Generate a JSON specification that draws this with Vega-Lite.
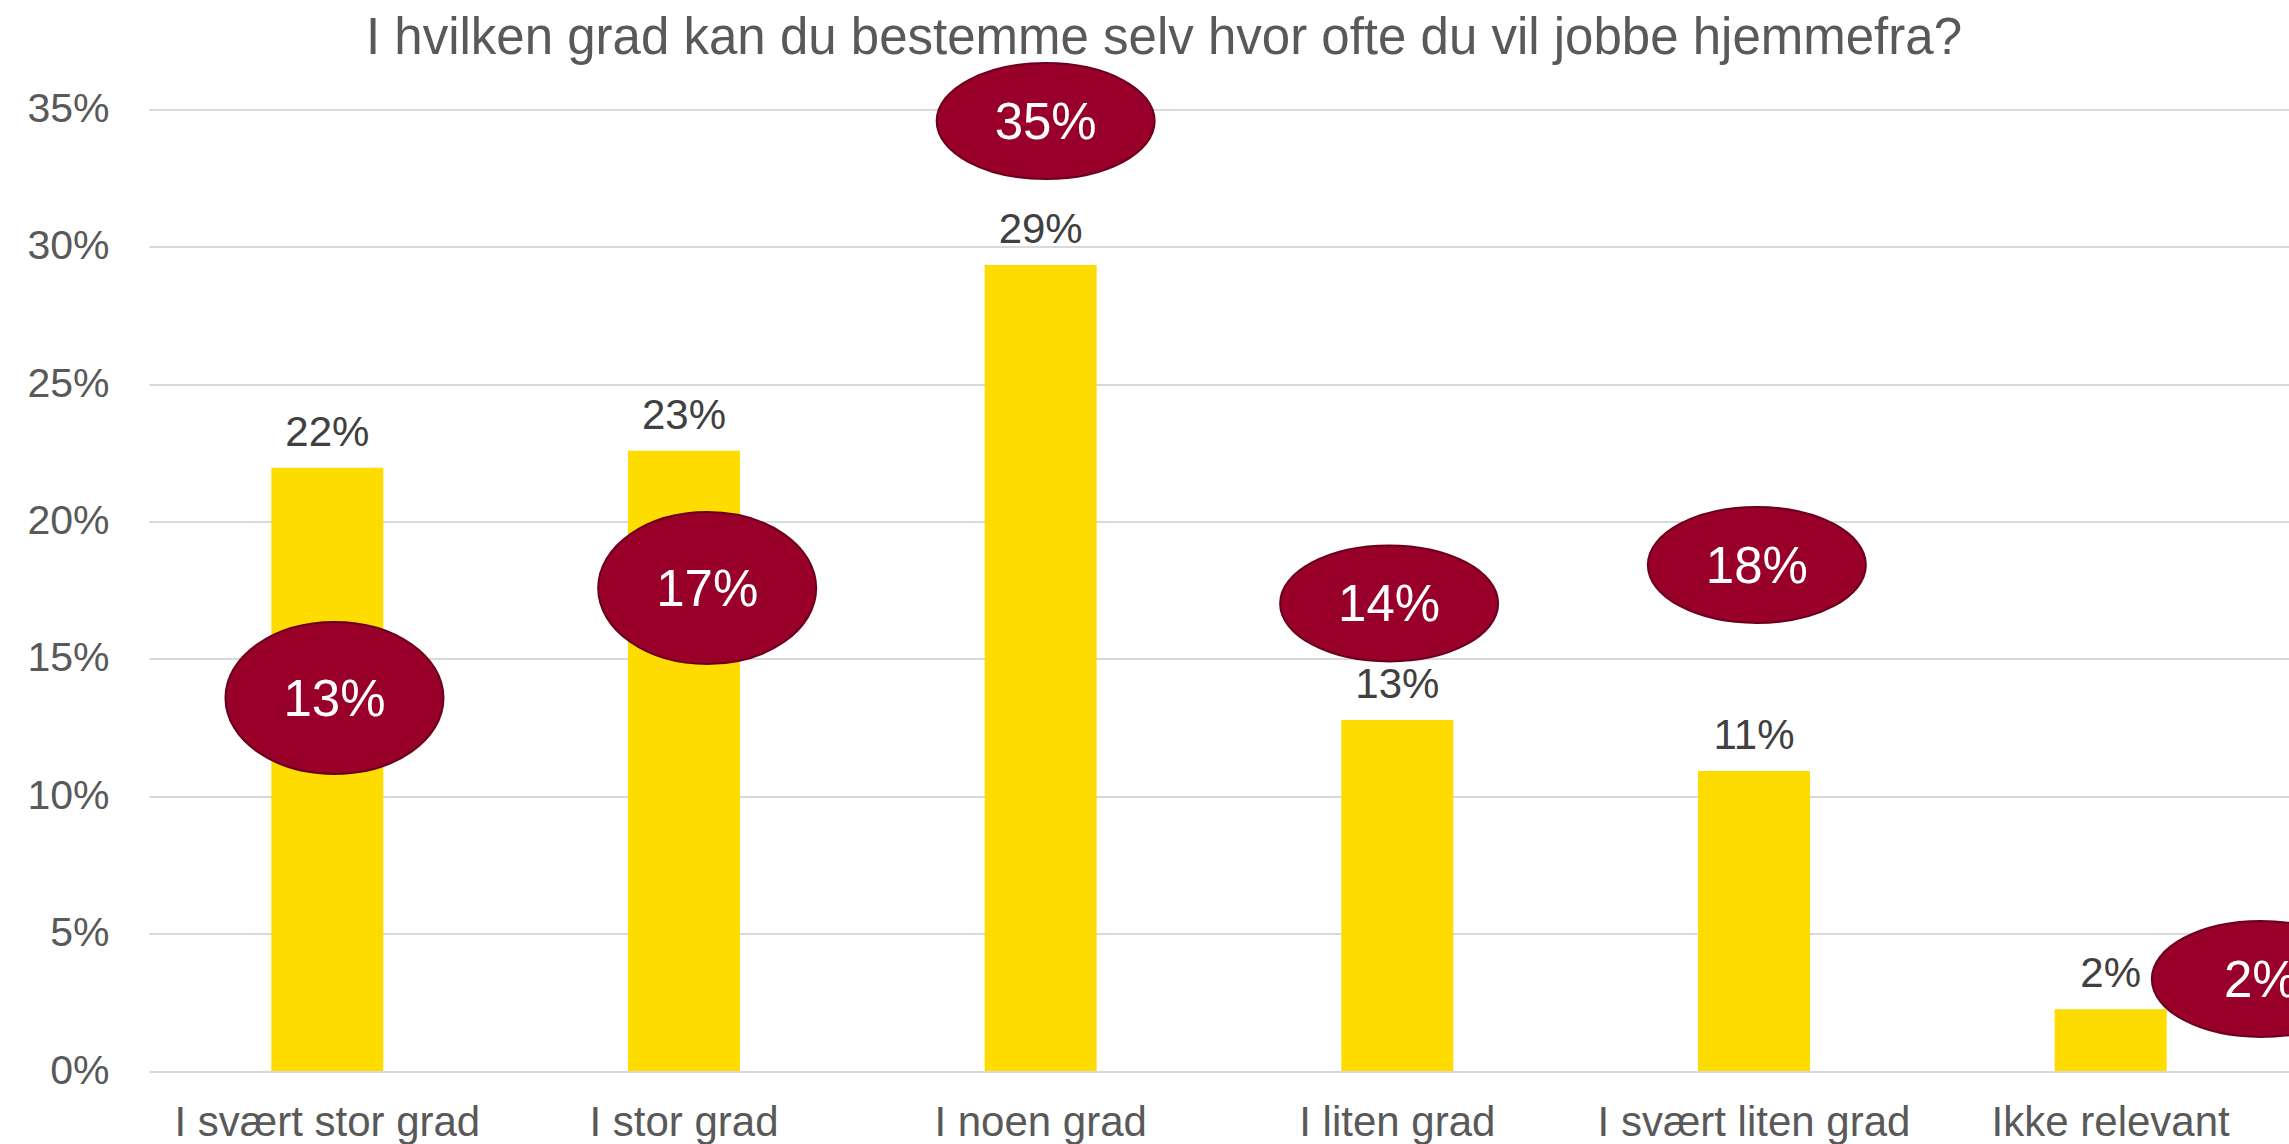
{
  "$schema": "https://vega.github.io/schema/vega-lite/v6.json",
  "width": 2140,
  "height": 961.5,
  "autosize": {"type": "none"},
  "padding": {"left": 149, "top": 109.5, "right": 0, "bottom": 73.5},
  "background": "white",
  "title": {
    "text": "I hvilken grad kan du bestemme selv hvor ofte du vil jobbe hjemmefra?",
    "font": "Liberation Sans",
    "fontSize": 51,
    "fontWeight": "normal",
    "color": "#595959",
    "anchor": "middle",
    "frame": "group",
    "baseline": "alphabetic",
    "offset": -46,
    "dx": -55
  },
  "config": {"view": {"stroke": null}, "font": "Liberation Sans"},
  "data": {
    "values": [
      {"cat": "I svært stor grad", "share": 0.2196, "prev": 0.13, "prev_x": 0.52, "prev_y": 0.1358},
      {"cat": "I stor grad", "share": 0.2258, "prev": 0.17, "prev_x": 1.565, "prev_y": 0.1758},
      {"cat": "I noen grad", "share": 0.2934, "prev": 0.35, "prev_x": 2.514, "prev_y": 0.3458},
      {"cat": "I liten grad", "share": 0.1278, "prev": 0.14, "prev_x": 3.477, "prev_y": 0.1702},
      {"cat": "I svært liten grad", "share": 0.1092, "prev": 0.18, "prev_x": 4.508, "prev_y": 0.1842},
      {"cat": "Ikke relevant", "share": 0.0225, "prev": 0.02, "prev_x": 5.921, "prev_y": 0.0335}
    ]
  },
  "layer": [
    {
      "mark": {"type": "bar", "color": "#FFDC00"},
      "encoding": {
        "x": {
          "field": "cat", "type": "nominal", "sort": null,
          "scale": {"paddingInner": 0.686, "paddingOuter": 0.343},
          "axis": {"title": null, "labelAngle": 0, "labelFont": "Liberation Sans", "labelFontSize": 42, "labelColor": "#595959", "labelLimit": 0, "ticks": false, "domain": false, "labelPadding": 31, "grid": false}
        },
        "y": {
          "field": "share", "type": "quantitative",
          "scale": {"domain": [0, 0.35], "nice": false},
          "axis": {"title": null, "values": [0, 0.05, 0.1, 0.15, 0.2, 0.25, 0.3, 0.35], "format": ".0%", "labelFont": "Liberation Sans", "labelFontSize": 41, "labelColor": "#595959", "labelPadding": 40, "ticks": false, "domain": false, "grid": true, "gridColor": "#d9d9d9", "gridWidth": 2, "zindex": 0}
        }
      }
    },
    {
      "mark": {"type": "text", "font": "Liberation Sans", "fontSize": 42, "color": "#404040", "baseline": "alphabetic", "align": "center", "dy": -22},
      "encoding": {
        "x": {"field": "cat", "type": "nominal", "sort": null, "scale": {"paddingInner": 0.686, "paddingOuter": 0.343}, "axis": null},
        "y": {"field": "share", "type": "quantitative", "scale": {"domain": [0, 0.35], "nice": false}},
        "text": {"field": "share", "type": "quantitative", "format": ".0%"}
      }
    },
    {
      "transform": [{"filter": {"field": "cat", "oneOf": ["I svært stor grad", "I stor grad"]}}],
      "mark": {"type": "point", "shape": "M-1,0A1,0.697,0,1,1,1,0A1,0.697,0,1,1,-1,0Z", "size": 47524, "filled": true, "fill": "#990029", "stroke": "#6b001d", "strokeWidth": 2, "opacity": 1, "fillOpacity": 1},
      "encoding": {
        "x": {"field": "prev_x", "type": "quantitative", "scale": {"domain": [0, 6], "nice": false, "zero": false}, "axis": null},
        "y": {"field": "prev_y", "type": "quantitative", "scale": {"domain": [0, 0.35], "nice": false}}
      }
    },
    {
      "transform": [{"filter": {"not": {"field": "cat", "oneOf": ["I svært stor grad", "I stor grad"]}}}],
      "mark": {"type": "point", "shape": "M-1,0A1,0.532,0,1,1,1,0A1,0.532,0,1,1,-1,0Z", "size": 47524, "filled": true, "fill": "#990029", "stroke": "#6b001d", "strokeWidth": 2, "opacity": 1, "fillOpacity": 1},
      "encoding": {
        "x": {"field": "prev_x", "type": "quantitative", "scale": {"domain": [0, 6], "nice": false, "zero": false}, "axis": null},
        "y": {"field": "prev_y", "type": "quantitative", "scale": {"domain": [0, 0.35], "nice": false}}
      }
    },
    {
      "mark": {"type": "text", "font": "Liberation Sans", "fontSize": 51, "color": "#ffffff", "baseline": "middle", "align": "center", "dy": 3},
      "encoding": {
        "x": {"field": "prev_x", "type": "quantitative", "scale": {"domain": [0, 6], "nice": false, "zero": false}, "axis": null},
        "y": {"field": "prev_y", "type": "quantitative", "scale": {"domain": [0, 0.35], "nice": false}},
        "text": {"field": "prev", "type": "quantitative", "format": ".0%"}
      }
    }
  ],
  "resolve": {"scale": {"x": "independent"}}
}
